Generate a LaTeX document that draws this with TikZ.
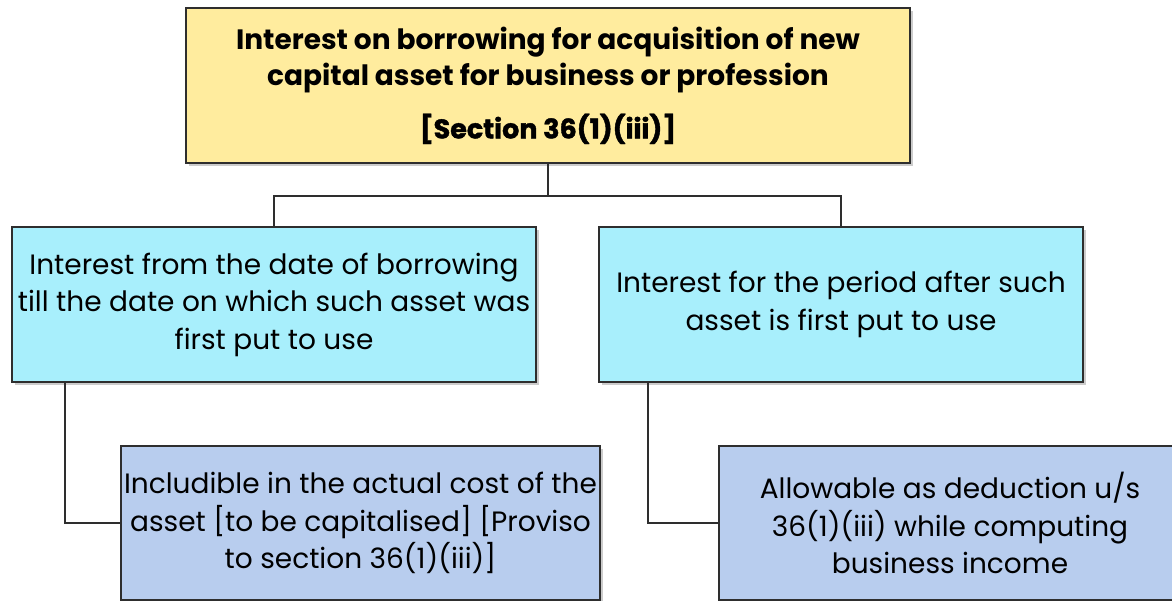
\documentclass[tikz,border=0pt]{standalone}
\usepackage{fontspec}
\setmainfont{Poppins}
\usetikzlibrary{shadows}
\definecolor{topfill}{HTML}{FFEC9E}
\definecolor{midfill}{HTML}{A8EFFC}
\definecolor{lowfill}{HTML}{B8CDEE}
\definecolor{edgecol}{HTML}{2E2E2E}
\begin{document}
\begin{tikzpicture}[x=1pt,y=-1pt,
  box/.style={draw=edgecol, line width=2.2pt, align=center, inner sep=0pt,
    drop shadow={shadow xshift=3pt, shadow yshift=-3pt, opacity=0.2, fill=black}},
  conn/.style={draw=edgecol, line width=2pt},
  toptext/.style={font=\fontsize{28}{36}\selectfont\bfseries},
  bodytext/.style={font=\fontsize{28}{37.5}\selectfont}]
\useasboundingbox (0,0) rectangle (1172,600);
\clip (0,0) rectangle (1172,600);
\node[box, fill=topfill, minimum width=724pt, minimum height=155pt, toptext] (top) at (548,85.5)
  {Interest on borrowing for acquisition of new\\capital asset for business or profession\\[17pt]{\fontsize{27}{36}\selectfont\addfontfeature{FakeBold=1.5}[Section 36(1)(iii)]}};
\node[box, fill=midfill, minimum width=524pt, minimum height=155pt, bodytext] (lm) at (274,304.5)
  {Interest from the date of borrowing\\till the date on which such asset was\\first put to use};
\node[box, fill=midfill, minimum width=484pt, minimum height=155pt, bodytext] (rm) at (841,304.5)
  {Interest for the period after such\\asset is first put to use};
\node[box, fill=lowfill, minimum width=479pt, minimum height=154pt, bodytext] (bl) at (360.5,523)
  {Includible in the actual cost of the\\asset [to be capitalised] [Proviso\\to section 36(1)(iii)]};
\node[box, fill=lowfill, minimum width=462pt, minimum height=154pt, bodytext] (br) at (950,523)
  {Allowable as deduction u/s\\36(1)(iii) while computing\\business income};
\draw[conn] (top.south) -- ++(0,32) coordinate (j);
\draw[conn] (lm.north) |- (j) -| (rm.north);
\draw[conn] ([xshift=-209pt]lm.south) |- (bl.west);
\draw[conn] ([xshift=-193pt]rm.south) |- (br.west);
\end{tikzpicture}
\end{document}
